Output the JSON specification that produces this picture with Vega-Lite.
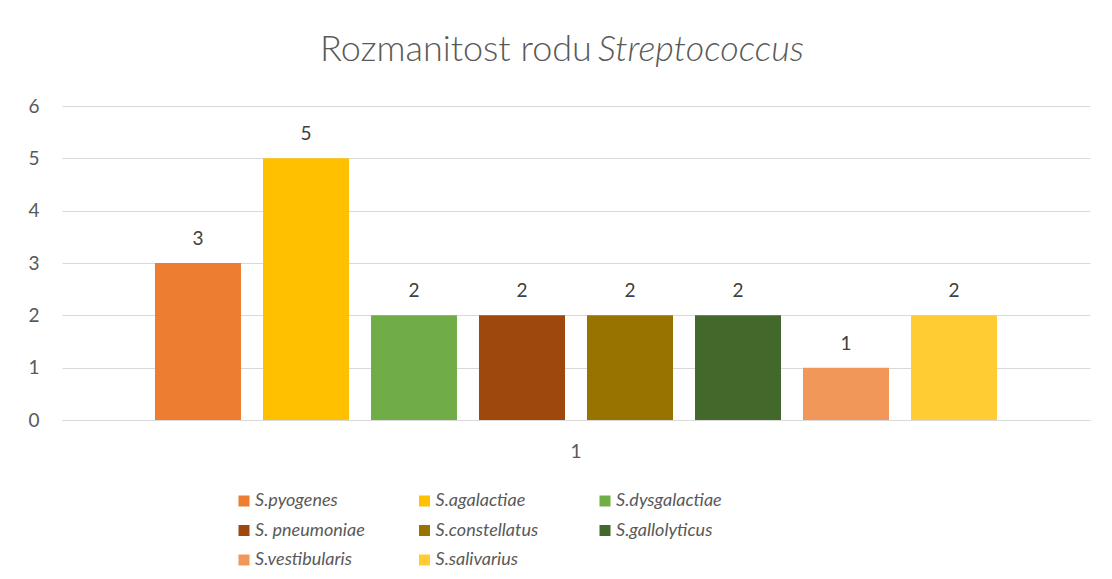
{
  "$schema": "https://vega.github.io/schema/vega-lite/v6.json",
  "width": 1028,
  "height": 314,
  "autosize": {"type": "none"},
  "padding": {"left": 62, "top": 106, "right": 22, "bottom": 159},
  "background": "white",
  "config": {
    "font": "Lato",
    "view": {"stroke": null},
    "style": {
      "group-title": {"dx": -120},
      "group-subtitle": {"dx": 125}
    }
  },
  "title": {
    "text": "Rozmanitost rodu",
    "subtitle": "Streptococcus",
    "anchor": "middle",
    "frame": "group",
    "font": "Lato",
    "subtitleFont": "Lato",
    "fontSize": 36,
    "subtitleFontSize": 36,
    "fontWeight": 300,
    "subtitleFontWeight": 300,
    "subtitleFontStyle": "italic",
    "color": "#595959",
    "subtitleColor": "#595959",
    "subtitlePadding": -36,
    "offset": 28
  },
  "data": {
    "values": [
      {"kategorie": "1", "druh": "S.pyogenes", "pocet": 3},
      {"kategorie": "1", "druh": "S.agalactiae", "pocet": 5},
      {"kategorie": "1", "druh": "S.dysgalactiae", "pocet": 2},
      {"kategorie": "1", "druh": "S. pneumoniae", "pocet": 2},
      {"kategorie": "1", "druh": "S.constellatus", "pocet": 2},
      {"kategorie": "1", "druh": "S.gallolyticus", "pocet": 2},
      {"kategorie": "1", "druh": "S.vestibularis", "pocet": 1},
      {"kategorie": "1", "druh": "S.salivarius", "pocet": 2}
    ]
  },
  "encoding": {
    "x": {
      "field": "kategorie",
      "type": "nominal",
      "scale": {"paddingInner": 0, "paddingOuter": 0.0949},
      "axis": {
        "title": null,
        "labelAngle": 0,
        "domain": true,
        "domainColor": "#D9D9D9",
        "domainWidth": 1,
        "ticks": false,
        "labelPadding": 22,
        "labelFont": "Lato",
        "labelFontSize": 19,
        "labelColor": "#595959"
      }
    },
    "xOffset": {
      "field": "druh",
      "type": "nominal",
      "sort": ["S.pyogenes", "S.agalactiae", "S.dysgalactiae", "S. pneumoniae", "S.constellatus", "S.gallolyticus", "S.vestibularis", "S.salivarius"],
      "scale": {"paddingInner": 0.2037, "paddingOuter": 0.1019}
    },
    "y": {
      "field": "pocet",
      "type": "quantitative",
      "scale": {"domain": [0, 6], "nice": false},
      "axis": {
        "title": null,
        "values": [0, 1, 2, 3, 4, 5, 6],
        "domain": false,
        "ticks": false,
        "grid": true,
        "gridColor": "#D9D9D9",
        "gridWidth": 1,
        "labelPadding": 23,
        "labelFont": "Lato",
        "labelFontSize": 19,
        "labelColor": "#595959"
      }
    }
  },
  "layer": [
    {
      "mark": {"type": "bar"},
      "encoding": {
        "color": {
          "field": "druh",
          "type": "nominal",
          "sort": ["S.pyogenes", "S.agalactiae", "S.dysgalactiae", "S. pneumoniae", "S.constellatus", "S.gallolyticus", "S.vestibularis", "S.salivarius"],
          "scale": {
            "domain": ["S.pyogenes", "S.agalactiae", "S.dysgalactiae", "S. pneumoniae", "S.constellatus", "S.gallolyticus", "S.vestibularis", "S.salivarius"],
            "range": ["#ED7D31", "#FFC000", "#70AD47", "#9E480E", "#997300", "#43682B", "#F1975A", "#FFCD33"]
          },
          "legend": {
            "title": null,
            "orient": "none",
            "legendX": 173,
            "legendY": 386,
            "direction": "horizontal",
            "columns": 3,
            "gridAlign": "all",
            "columnPadding": 50.5,
            "rowPadding": 11.5,
            "symbolType": "square",
            "symbolSize": 121,
            "symbolStrokeWidth": 0,
            "labelOffset": 2,
            "labelFont": "Lato",
            "labelFontSize": 18,
            "labelFontStyle": "italic",
            "labelColor": "#595959",
            "labelLimit": 0
          }
        }
      }
    },
    {
      "mark": {"type": "text", "baseline": "alphabetic", "dy": -18, "font": "Lato", "fontSize": 19, "color": "#404040"},
      "encoding": {
        "text": {"field": "pocet", "type": "quantitative"}
      }
    }
  ]
}
